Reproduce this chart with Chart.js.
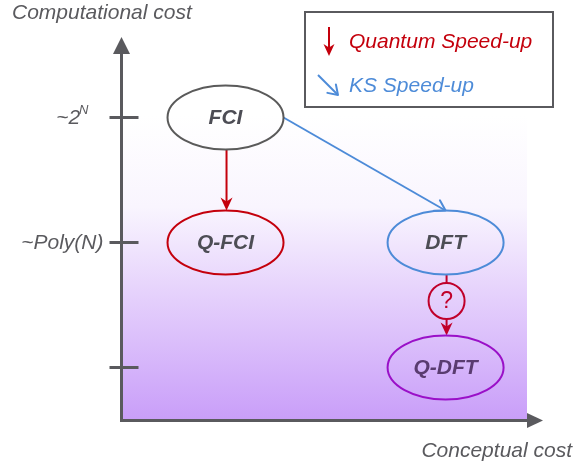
<!DOCTYPE html>
<html>
<head>
<meta charset="utf-8">
<script src="https://cdn.jsdelivr.net/npm/chart.js@4.4.1/dist/chart.umd.min.js"></script>
<style>
  html, body { margin: 0; padding: 0; background: #ffffff; }
  canvas { display: block; }
</style>
</head>
<body>
<canvas id="c" width="575" height="468"></canvas>
<script>
// ---- data ----
const methods = ['FCI', 'Q-FCI', 'DFT', 'Q-DFT'];
const conceptualCost = [1, 1, 2, 2];
const computationalCost = [3, 2, 2, 1];
const costTickValues = [3, 2, 1];
const costTickLabels = ['~2|N', '~Poly(N)', ''];
const arrowFrom = ['FCI', 'FCI', 'DFT'];
const arrowTo = ['Q-FCI', 'DFT', 'Q-DFT'];
const arrowKind = ['quantum', 'ks', 'uncertain'];
const legendLabels = ['Quantum Speed-up', 'KS Speed-up'];
const xAxisTitle = 'Conceptual cost';
const yAxisTitle = 'Computational cost';

// ---- styles ----
const AXIS = '#5a5a5e';
const RED = '#c4000c';
const BLUE = '#4d8bd8';
const methodStroke = { 'FCI': '#5a5a5a', 'Q-FCI': '#c4000c', 'DFT': '#4d8bd8', 'Q-DFT': '#9a10c8' };
const methodText = { 'FCI': '#4d4d55', 'Q-FCI': '#4d4d55', 'DFT': '#4d4d55', 'Q-DFT': '#5a3c70' };
const RX = 58, RY = 32;

function arrowHead(ctx, x, y, angle, len, half, color) {
  ctx.save();
  ctx.translate(x, y);
  ctx.rotate(angle);
  ctx.fillStyle = color;
  ctx.beginPath();
  ctx.moveTo(0, 0);
  ctx.lineTo(-len, -half);
  ctx.lineTo(-len * 0.7, 0);
  ctx.lineTo(-len, half);
  ctx.closePath();
  ctx.fill();
  ctx.restore();
}
function openHead(ctx, x, y, angle, len, half, color, w) {
  ctx.save();
  ctx.translate(x, y);
  ctx.rotate(angle);
  ctx.strokeStyle = color;
  ctx.lineWidth = w;
  ctx.lineCap = 'round';
  ctx.lineJoin = 'round';
  ctx.beginPath();
  ctx.moveTo(-len, -half);
  ctx.lineTo(0, 0);
  ctx.lineTo(-len, half);
  ctx.stroke();
  ctx.restore();
}
function line(ctx, x1, y1, x2, y2, color, w) {
  ctx.save();
  ctx.strokeStyle = color; ctx.lineWidth = w;
  ctx.beginPath(); ctx.moveTo(x1, y1); ctx.lineTo(x2, y2); ctx.stroke();
  ctx.restore();
}

const diagramPlugin = {
  id: 'diagram',
  beforeDatasetsDraw(chart) {
    const ctx = chart.ctx;
    const a = chart.chartArea;
    const ys = chart.scales.y;
    const top = ys.getPixelForValue(costTickValues[0]) - 2;
    const g = ctx.createLinearGradient(0, top, 0, a.bottom);
    g.addColorStop(0, 'rgba(255,255,255,1)');
    g.addColorStop(0.3, 'rgb(249,245,254)');
    g.addColorStop(1, 'rgb(201,158,249)');
    ctx.save();
    ctx.fillStyle = g;
    ctx.fillRect(a.left, top, a.right - a.left, a.bottom - top);
    ctx.restore();
  },
  afterDatasetsDraw(chart) {
    const ctx = chart.ctx;
    const a = chart.chartArea;
    const ys = chart.scales.y;
    const meta = chart.getDatasetMeta(0);
    const pos = {};
    methods.forEach((m, i) => { pos[m] = { x: meta.data[i].x, y: meta.data[i].y }; });

    // axes
    const ax = a.left + 0.5, ay = a.bottom + 0.5;
    line(ctx, ax, ay + 1.5, ax, a.top + 14, AXIS, 3);
    line(ctx, ax - 1.5, ay, a.right + 2, ay, AXIS, 3);
    ctx.save();
    ctx.fillStyle = AXIS;
    ctx.beginPath();
    ctx.moveTo(ax, a.top - 3); ctx.lineTo(ax + 8.5, a.top + 14); ctx.lineTo(ax - 8.5, a.top + 14); ctx.closePath(); ctx.fill();
    ctx.beginPath();
    ctx.moveTo(a.right + 16, ay); ctx.lineTo(a.right, ay - 7.5); ctx.lineTo(a.right, ay + 7.5); ctx.closePath(); ctx.fill();
    ctx.restore();

    // y ticks + labels
    costTickValues.forEach((v, i) => {
      const py = Math.round(ys.getPixelForValue(v)) - 0.5;
      line(ctx, ax - 12, py, ax + 17, py, AXIS, 3);
      const lab = costTickLabels[i];
      if (!lab) return;
      ctx.save();
      ctx.fillStyle = '#5a5a5e';
      ctx.textBaseline = 'middle';
      ctx.textAlign = 'right';
      if (lab.indexOf('|') >= 0) {
        const parts = lab.split('|');
        ctx.font = 'italic 13px "Liberation Sans"';
        const supW = ctx.measureText(parts[1]).width;
        const right = ax - 33;
        ctx.fillText(parts[1], right, py - 7);
        ctx.font = 'italic 21px "Liberation Sans"';
        ctx.fillText(parts[0], right - supW + 1, py + 1);
      } else {
        ctx.font = 'italic 21px "Liberation Sans"';
        ctx.fillText(lab, ax - 18, py + 1);
      }
      ctx.restore();
    });

    // arrows
    arrowFrom.forEach((f, i) => {
      const p = pos[f], q = pos[arrowTo[i]];
      const kind = arrowKind[i];
      if (kind === 'quantum') {
        const x = p.x + 1, y1 = p.y + RY, y2 = q.y - RY;
        line(ctx, x, y1, x, y2 - 8, RED, 2);
        arrowHead(ctx, x, y2, Math.PI / 2, 13, 6, RED);
      } else if (kind === 'ks') {
        const x1 = p.x + RX, y1 = p.y, x2 = q.x, y2 = q.y - RY;
        line(ctx, x1, y1, x2 - 1, y2 - 0.5, BLUE, 2);
        openHead(ctx, x2, y2, Math.atan2(y2 - y1, x2 - x1), 10, 6, BLUE, 2);
      } else {
        const x = q.x + 1;
        const y1 = p.y + RY, y2 = q.y - RY;
        const cy = (y1 + y2) / 2 - 4, r = 18;
        line(ctx, x, y1, x, cy - r, '#c0002a', 2);
        line(ctx, x, cy + r, x, y2 - 8, '#c0002a', 2);
        arrowHead(ctx, x, y2, Math.PI / 2, 13, 6, '#c0002a');
        ctx.save();
        ctx.strokeStyle = '#c0002a'; ctx.lineWidth = 2;
        ctx.beginPath(); ctx.arc(x, cy, r, 0, Math.PI * 2); ctx.stroke();
        ctx.fillStyle = '#c0002a';
        ctx.font = '23px "Liberation Sans"';
        ctx.textAlign = 'center'; ctx.textBaseline = 'middle';
        ctx.fillText('?', x, cy + 1);
        ctx.restore();
      }
    });

    // ellipses + labels
    methods.forEach(m => {
      const p = pos[m];
      ctx.save();
      ctx.strokeStyle = methodStroke[m];
      ctx.lineWidth = 2;
      ctx.beginPath();
      ctx.ellipse(p.x, p.y, RX, RY, 0, 0, Math.PI * 2);
      ctx.stroke();
      ctx.fillStyle = methodText[m];
      ctx.font = 'bold italic 21px "Liberation Sans"';
      ctx.textAlign = 'center'; ctx.textBaseline = 'middle';
      ctx.fillText(m, p.x, p.y + 1);
      ctx.restore();
    });

    // axis titles
    ctx.save();
    ctx.fillStyle = '#5a5a5e';
    ctx.font = 'italic 21px "Liberation Sans"';
    ctx.textBaseline = 'middle';
    ctx.textAlign = 'left';
    ctx.fillText(yAxisTitle, 12, 13);
    ctx.textAlign = 'right';
    ctx.fillText(xAxisTitle, 572, 451);
    ctx.restore();

    // legend box
    ctx.save();
    ctx.fillStyle = '#ffffff';
    ctx.fillRect(305, 12, 248, 95);
    ctx.strokeStyle = '#5a5a5e';
    ctx.lineWidth = 2;
    ctx.strokeRect(305, 12, 248, 95);
    // quantum arrow
    line(ctx, 329, 27, 329, 48, RED, 2);
    arrowHead(ctx, 329, 56, Math.PI / 2, 12, 5.5, RED);
    // ks arrow
    line(ctx, 318, 75, 337, 94, BLUE, 2);
    openHead(ctx, 338, 95, Math.PI / 4, 9, 6, BLUE, 2);
    ctx.font = 'italic 21px "Liberation Sans"';
    ctx.textBaseline = 'middle'; ctx.textAlign = 'left';
    ctx.fillStyle = RED;
    ctx.fillText(legendLabels[0], 349, 42);
    ctx.fillStyle = BLUE;
    ctx.fillText(legendLabels[1], 349, 86);
    ctx.restore();
  }
};

new Chart(document.getElementById('c'), {
  type: 'scatter',
  data: {
    datasets: [{
      label: 'methods',
      data: methods.map((m, i) => ({ x: conceptualCost[i], y: computationalCost[i] })),
      pointRadius: 0,
      pointHoverRadius: 0
    }]
  },
  options: {
    responsive: false,
    animation: false,
    events: [],
    layout: { padding: { left: 121, right: 48, top: 40, bottom: 48 } },
    plugins: { legend: { display: false }, tooltip: { enabled: false } },
    scales: {
      x: { type: 'linear', min: 0.525, max: 2.37, display: false },
      y: { type: 'linear', min: 0.58, max: 3.62, display: false }
    }
  },
  plugins: [diagramPlugin]
});
</script>
</body>
</html>
